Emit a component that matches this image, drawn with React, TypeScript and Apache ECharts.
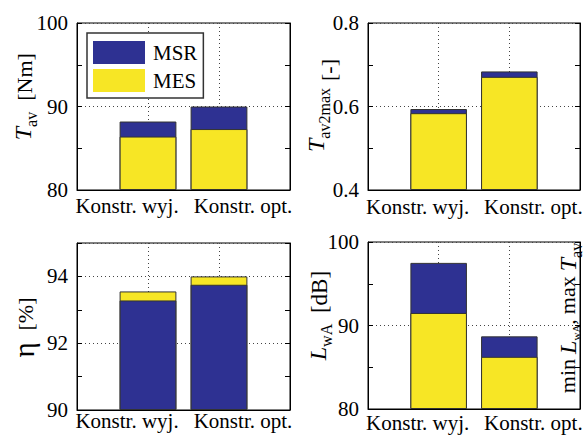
import React, { useEffect, useRef } from 'react';
import * as echarts from 'echarts';

const categories = ['Konstr. wyj.', 'Konstr. opt.'];
const seriesNames = ['MSR', 'MES'];
const torqueMSR = [88.2, 90.0];
const torqueMES = [86.4, 87.3];
const ratioMSR = [0.594, 0.684];
const ratioMES = [0.584, 0.671];
const effMSR = [93.28, 93.75];
const effMES = [93.55, 94.0];
const noiseMSR = [97.5, 88.7];
const noiseMES = [91.5, 86.25];

const BLUE = '#2e3192';
const YELLOW = '#f7e625';
const FONT = 'Liberation Serif';

const base = { fontFamily: FONT, color: '#000', verticalAlign: 'top' };
const titleRich = {
  w: { ...base, fontSize: 22, lineHeight: 24 },
  wb: { ...base, fontSize: 22, lineHeight: 24, padding: [0, 0, 0, 5] },
  i: { ...base, fontSize: 24, fontStyle: 'italic', lineHeight: 24 },
  ib: { ...base, fontSize: 24, fontStyle: 'italic', lineHeight: 24, padding: [0, 0, 0, 5] },
  e: { ...base, fontSize: 29, lineHeight: 24 },
  s: { ...base, fontSize: 16, lineHeight: 16, padding: [12, 0, 0, 0] },
  t: { ...base, fontSize: 11, lineHeight: 12, padding: [14, 0, 0, 0] },
};

const panels = [
  { grid: { left: 77, top: 23, width: 213, height: 167 }, min: 80, max: 100, minor: 5, major: 10, dec: 0,
    msr: torqueMSR, mes: torqueMES, msrFirst: true, sym: '{i|T}{s|av}', sx: 23, sy: 126,
    unit: '[Nm]', ux: 24, uy: 77, us: 22, xMargin: 5 },
  { grid: { left: 368, top: 23, width: 212, height: 167 }, min: 0.4, max: 0.8, minor: 0.1, major: 0.2, dec: 1,
    msr: ratioMSR, mes: ratioMES, msrFirst: true, sym: '{i|T}{s|av2max}', sx: 316, sy: 120,
    unit: '[-]', ux: 328, uy: 70, us: 22, xMargin: 6 },
  { grid: { left: 77, top: 243, width: 213, height: 167 }, min: 90, max: 95, minor: 1, major: 2, dec: 0,
    msr: effMSR, mes: effMES, msrFirst: false, sym: '{e|η}', sx: 21, sy: 350,
    unit: '[%]', ux: 25, uy: 314, us: 22, xMargin: 0 },
  { grid: { left: 368, top: 242, width: 212, height: 167 }, min: 80, max: 100, minor: 5, major: 10, dec: 0,
    msr: noiseMSR, mes: noiseMES, msrFirst: true, sym: '{i|L}{s|wA}', sx: 318, sy: 342,
    unit: '[dB]', ux: 319, uy: 292, us: 23, xMargin: 3 },
];

const annotation = '{w|min}{ib|L}{t|wA}{w|,}{wb|max}{ib|T}{s|av}';

const pad = (arr: number[]) => ['-', ...arr, '-'];

export default function App() {
  const ref = useRef<HTMLDivElement>(null);
  useEffect(() => {
    if (!ref.current) return;
    const chart = echarts.init(ref.current, null, { renderer: 'svg' });
    const grid: any[] = [];
    const xAxis: any[] = [];
    const yAxis: any[] = [];
    const series: any[] = [];
    const graphic: any[] = [];
    panels.forEach((p, gi) => {
      grid.push({ ...p.grid, show: true, borderColor: '#000', borderWidth: 1, backgroundColor: 'transparent', containLabel: false });
      xAxis.push({
        type: 'category', gridIndex: gi, data: ['', ...categories, ''], boundaryGap: false,
        axisLine: { show: true, lineStyle: { color: '#000' } }, axisTick: { show: false },
        axisLabel: {
          interval: 0, margin: p.xMargin, color: '#000', fontFamily: FONT, fontSize: 21,
          formatter: (v: string, idx: number) => idx === 1 ? `{a|${v}}` : idx === 2 ? `{b|${v}}` : '',
          rich: {
            a: { fontFamily: FONT, fontSize: 21, color: '#000', padding: [0, 42, 0, 0] },
            b: { fontFamily: FONT, fontSize: 21, color: '#000', padding: [0, 0, 0, 48] },
          },
        },
        splitLine: { show: true, interval: (idx: number) => idx === 1 || idx === 2, lineStyle: { color: '#444', type: [1, 3], width: 1 } },
      });
      const bi = yAxis.length;
      const isMajor = (v: number) => {
        const k = (v - p.min) / p.major;
        return Math.abs(k - Math.round(k)) < 1e-6;
      };
      yAxis.push({
        type: 'value', gridIndex: gi, position: 'left', min: p.min, max: p.max, interval: p.minor, startValue: p.min,
        axisLine: { show: true, lineStyle: { color: '#000' } },
        axisTick: { show: true, inside: true, length: 5, lineStyle: { color: '#000' } },
        axisLabel: { margin: 9, color: '#000', fontFamily: FONT, fontSize: 21, formatter: (v: number) => isMajor(v) ? v.toFixed(p.dec) : '' },
        splitLine: { show: false },
      });
      yAxis.push({
        type: 'value', gridIndex: gi, position: 'right', min: p.min, max: p.max, interval: p.minor,
        axisLine: { show: true, lineStyle: { color: '#000' } },
        axisTick: { show: true, inside: true, length: 5, lineStyle: { color: '#000' } },
        axisLabel: { show: false }, splitLine: { show: false },
      });
      yAxis.push({
        type: 'value', gridIndex: gi, position: 'left', min: p.min, max: p.max, interval: p.major,
        axisLine: { show: false }, axisTick: { show: false }, axisLabel: { show: false },
        splitLine: { show: true, lineStyle: { color: '#444', type: [1, 3], width: 1 } },
      });
      const mk = (name: string, data: number[], color: string) => ({
        type: 'bar', name, xAxisIndex: gi, yAxisIndex: bi, data: pad(data), barWidth: '80%', barGap: '-100%',
        clip: true, itemStyle: { color, borderColor: '#333', borderWidth: 1 },
      });
      const sMSR = mk(seriesNames[0], p.msr, BLUE);
      const sMES = mk(seriesNames[1], p.mes, YELLOW);
      if (p.msrFirst) series.push(sMSR, sMES); else series.push(sMES, sMSR);
      graphic.push({
        type: 'text', x: p.sx, y: p.sy, rotation: Math.PI / 2, z: 100,
        style: { text: p.sym, rich: titleRich, textAlign: 'center', textVerticalAlign: 'middle' },
      });
      graphic.push({
        type: 'text', x: p.ux, y: p.uy, rotation: Math.PI / 2, z: 100,
        style: { text: p.unit, font: `${p.us}px "${FONT}"`, fill: '#000', textAlign: 'center', textVerticalAlign: 'middle' },
      });
    });

    graphic.push({
      type: 'text', x: 568, y: 318, rotation: Math.PI / 2, z: 100,
      style: { text: annotation, rich: titleRich, textAlign: 'center', textVerticalAlign: 'middle' },
    });

    chart.setOption({
      animation: false,
      backgroundColor: '#fff',
      grid, xAxis, yAxis, series, graphic,
      legend: {
        data: seriesNames, left: 87, top: 33, orient: 'vertical', icon: 'rect',
        itemWidth: 52, itemHeight: 23, itemGap: 5, padding: [8, 6, 6, 6],
        borderColor: '#333', borderWidth: 1.5, backgroundColor: '#fff',
        itemStyle: { borderWidth: 0 },
        textStyle: { fontFamily: FONT, fontSize: 21, color: '#000', padding: [0, 0, 0, 3] },
        selectedMode: false,
      },
    });
    return () => chart.dispose();
  }, []);
  return <div ref={ref} style={{ position: 'absolute', left: 0, top: 0, width: 588, height: 441 }} />;
}
